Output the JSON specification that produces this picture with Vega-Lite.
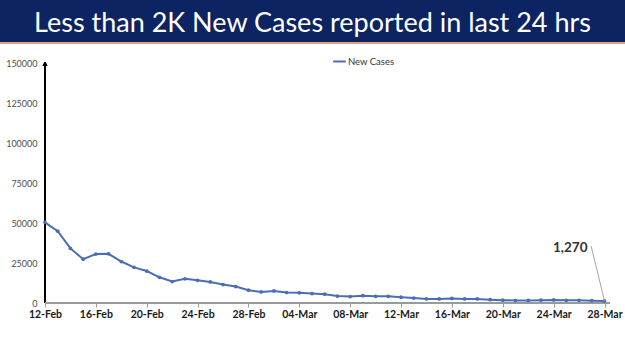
{
  "$schema": "https://vega.github.io/schema/vega-lite/v6.json",
  "width": 625,
  "height": 308,
  "autosize": "none",
  "padding": {"top": 43, "left": 0, "right": 0, "bottom": 0},
  "background": "#0D2463",
  "view": {"fill": "white", "stroke": null},
  "title": {"text": "Less than 2K New Cases reported in last 24 hrs", "color": "white", "font": "Lato", "fontSize": 27, "fontWeight": "normal", "anchor": "middle", "offset": 4},
  "config": {"axis": {"grid": false}},
  "data": {"values": [
    {"date": "2022-02-12", "value": 50407, "series": "New Cases"},
    {"date": "2022-02-13", "value": 44877, "series": "New Cases"},
    {"date": "2022-02-14", "value": 34113, "series": "New Cases"},
    {"date": "2022-02-15", "value": 27409, "series": "New Cases"},
    {"date": "2022-02-16", "value": 30615, "series": "New Cases"},
    {"date": "2022-02-17", "value": 30757, "series": "New Cases"},
    {"date": "2022-02-18", "value": 25920, "series": "New Cases"},
    {"date": "2022-02-19", "value": 22270, "series": "New Cases"},
    {"date": "2022-02-20", "value": 19968, "series": "New Cases"},
    {"date": "2022-02-21", "value": 16051, "series": "New Cases"},
    {"date": "2022-02-22", "value": 13405, "series": "New Cases"},
    {"date": "2022-02-23", "value": 15102, "series": "New Cases"},
    {"date": "2022-02-24", "value": 14148, "series": "New Cases"},
    {"date": "2022-02-25", "value": 13166, "series": "New Cases"},
    {"date": "2022-02-26", "value": 11499, "series": "New Cases"},
    {"date": "2022-02-27", "value": 10273, "series": "New Cases"},
    {"date": "2022-02-28", "value": 8013, "series": "New Cases"},
    {"date": "2022-03-01", "value": 6915, "series": "New Cases"},
    {"date": "2022-03-02", "value": 7554, "series": "New Cases"},
    {"date": "2022-03-03", "value": 6561, "series": "New Cases"},
    {"date": "2022-03-04", "value": 6396, "series": "New Cases"},
    {"date": "2022-03-05", "value": 5921, "series": "New Cases"},
    {"date": "2022-03-06", "value": 5476, "series": "New Cases"},
    {"date": "2022-03-07", "value": 4362, "series": "New Cases"},
    {"date": "2022-03-08", "value": 3993, "series": "New Cases"},
    {"date": "2022-03-09", "value": 4575, "series": "New Cases"},
    {"date": "2022-03-10", "value": 4184, "series": "New Cases"},
    {"date": "2022-03-11", "value": 4194, "series": "New Cases"},
    {"date": "2022-03-12", "value": 3614, "series": "New Cases"},
    {"date": "2022-03-13", "value": 3116, "series": "New Cases"},
    {"date": "2022-03-14", "value": 2503, "series": "New Cases"},
    {"date": "2022-03-15", "value": 2568, "series": "New Cases"},
    {"date": "2022-03-16", "value": 2876, "series": "New Cases"},
    {"date": "2022-03-17", "value": 2539, "series": "New Cases"},
    {"date": "2022-03-18", "value": 2528, "series": "New Cases"},
    {"date": "2022-03-19", "value": 2075, "series": "New Cases"},
    {"date": "2022-03-20", "value": 1761, "series": "New Cases"},
    {"date": "2022-03-21", "value": 1549, "series": "New Cases"},
    {"date": "2022-03-22", "value": 1581, "series": "New Cases"},
    {"date": "2022-03-23", "value": 1778, "series": "New Cases"},
    {"date": "2022-03-24", "value": 1938, "series": "New Cases"},
    {"date": "2022-03-25", "value": 1685, "series": "New Cases"},
    {"date": "2022-03-26", "value": 1660, "series": "New Cases"},
    {"date": "2022-03-27", "value": 1421, "series": "New Cases"},
    {"date": "2022-03-28", "value": 1270, "series": "New Cases"}
  ]},
  "layer": [
    {
      "mark": {"type": "rule", "stroke": "#E8A07A", "strokeWidth": 2},
      "encoding": {"y": {"datum": 162500, "type": "quantitative"}}
    },
    {
      "mark": {"type": "rule", "stroke": "#000000", "strokeWidth": 1.2},
      "encoding": {
        "x": {"datum": {"year": 2022, "month": 2, "date": 12, "utc": true}, "type": "temporal"},
        "y": {"datum": 0, "type": "quantitative"},
        "y2": {"datum": 149000}
      }
    },
    {
      "mark": {"type": "point", "shape": "triangle-up", "filled": true, "color": "#000000", "size": 18, "opacity": 1},
      "encoding": {
        "x": {"datum": {"year": 2022, "month": 2, "date": 12, "utc": true}, "type": "temporal"},
        "y": {"datum": 149500, "type": "quantitative"}
      }
    },
    {
      "mark": {"type": "rule", "stroke": "#9A9A9A", "strokeWidth": 1.2},
      "encoding": {
        "x": {"datum": {"year": 2022, "month": 2, "date": 12, "utc": true}, "type": "temporal"},
        "x2": {"datum": {"year": 2022, "month": 3, "date": 28, "hours": 10, "utc": true}},
        "y": {"datum": 0, "type": "quantitative"}
      }
    },
    {
      "mark": {"type": "line", "strokeWidth": 2, "point": {"filled": true, "size": 14}},
      "encoding": {
        "x": {
          "field": "date", "type": "temporal",
          "scale": {"type": "utc", "domain": [
            {"year": 2022, "month": 2, "date": 8, "hours": 11, "minutes": 4, "utc": true},
            {"year": 2022, "month": 3, "date": 29, "hours": 14, "minutes": 40, "utc": true}
          ]},
          "axis": {
            "title": null, "offset": -48, "domain": false, "ticks": true, "tickSize": 4, "tickColor": "#9A9A9A",
            "format": "%d-%b", "labelFont": "Lato", "labelFontSize": 10.5, "labelFontWeight": "bold", "labelColor": "#1A1A1A",
            "labelPadding": 2, "labelOverlap": false, "labelFlush": false,
            "values": [
              {"year": 2022, "month": 2, "date": 12, "utc": true},
              {"year": 2022, "month": 2, "date": 16, "utc": true},
              {"year": 2022, "month": 2, "date": 20, "utc": true},
              {"year": 2022, "month": 2, "date": 24, "utc": true},
              {"year": 2022, "month": 2, "date": 28, "utc": true},
              {"year": 2022, "month": 3, "date": 4, "utc": true},
              {"year": 2022, "month": 3, "date": 8, "utc": true},
              {"year": 2022, "month": 3, "date": 12, "utc": true},
              {"year": 2022, "month": 3, "date": 16, "utc": true},
              {"year": 2022, "month": 3, "date": 20, "utc": true},
              {"year": 2022, "month": 3, "date": 24, "utc": true},
              {"year": 2022, "month": 3, "date": 28, "utc": true}
            ]
          }
        },
        "y": {
          "field": "value", "type": "quantitative",
          "scale": {"domain": [-30000, 162500], "nice": false, "zero": false},
          "axis": {
            "title": null, "offset": -45, "domain": false, "ticks": false, "labelPadding": 8,
            "values": [0, 25000, 50000, 75000, 100000, 125000, 150000], "format": "d",
            "labelFont": "Lato", "labelFontSize": 9, "labelColor": "#4D4D4D"
          }
        },
        "color": {
          "field": "series", "type": "nominal",
          "scale": {"domain": ["New Cases"], "range": ["#4A6EB5"]},
          "legend": {
            "title": null, "orient": "none", "legendX": 332, "legendY": 11,
            "symbolType": "stroke", "symbolSize": 160, "symbolStrokeWidth": 2,
            "labelFont": "Lato", "labelFontSize": 9.5, "labelColor": "#333333", "labelOffset": 1
          }
        }
      }
    },
    {
      "transform": [
        {"filter": "datum.value == 1270"},
        {"calculate": "time(datum.date) - 91000000", "as": "calloutDate"},
        {"calculate": "datum.value + 34400", "as": "calloutValue"}
      ],
      "mark": {"type": "rule", "stroke": "#A6A6A6", "strokeWidth": 1},
      "encoding": {
        "x": {"field": "calloutDate", "type": "temporal"},
        "y": {"field": "calloutValue", "type": "quantitative"},
        "x2": {"field": "date"},
        "y2": {"field": "value"}
      }
    },
    {
      "transform": [{"filter": "datum.value == 1270"}],
      "mark": {"type": "text", "align": "right", "baseline": "middle", "dx": -17, "dy": -53, "font": "Lato", "fontSize": 13.5, "fontWeight": "bold", "color": "#333333"},
      "encoding": {
        "x": {"field": "date", "type": "temporal"},
        "y": {"field": "value", "type": "quantitative"},
        "text": {"field": "value", "type": "quantitative", "format": ","}
      }
    }
  ]
}
